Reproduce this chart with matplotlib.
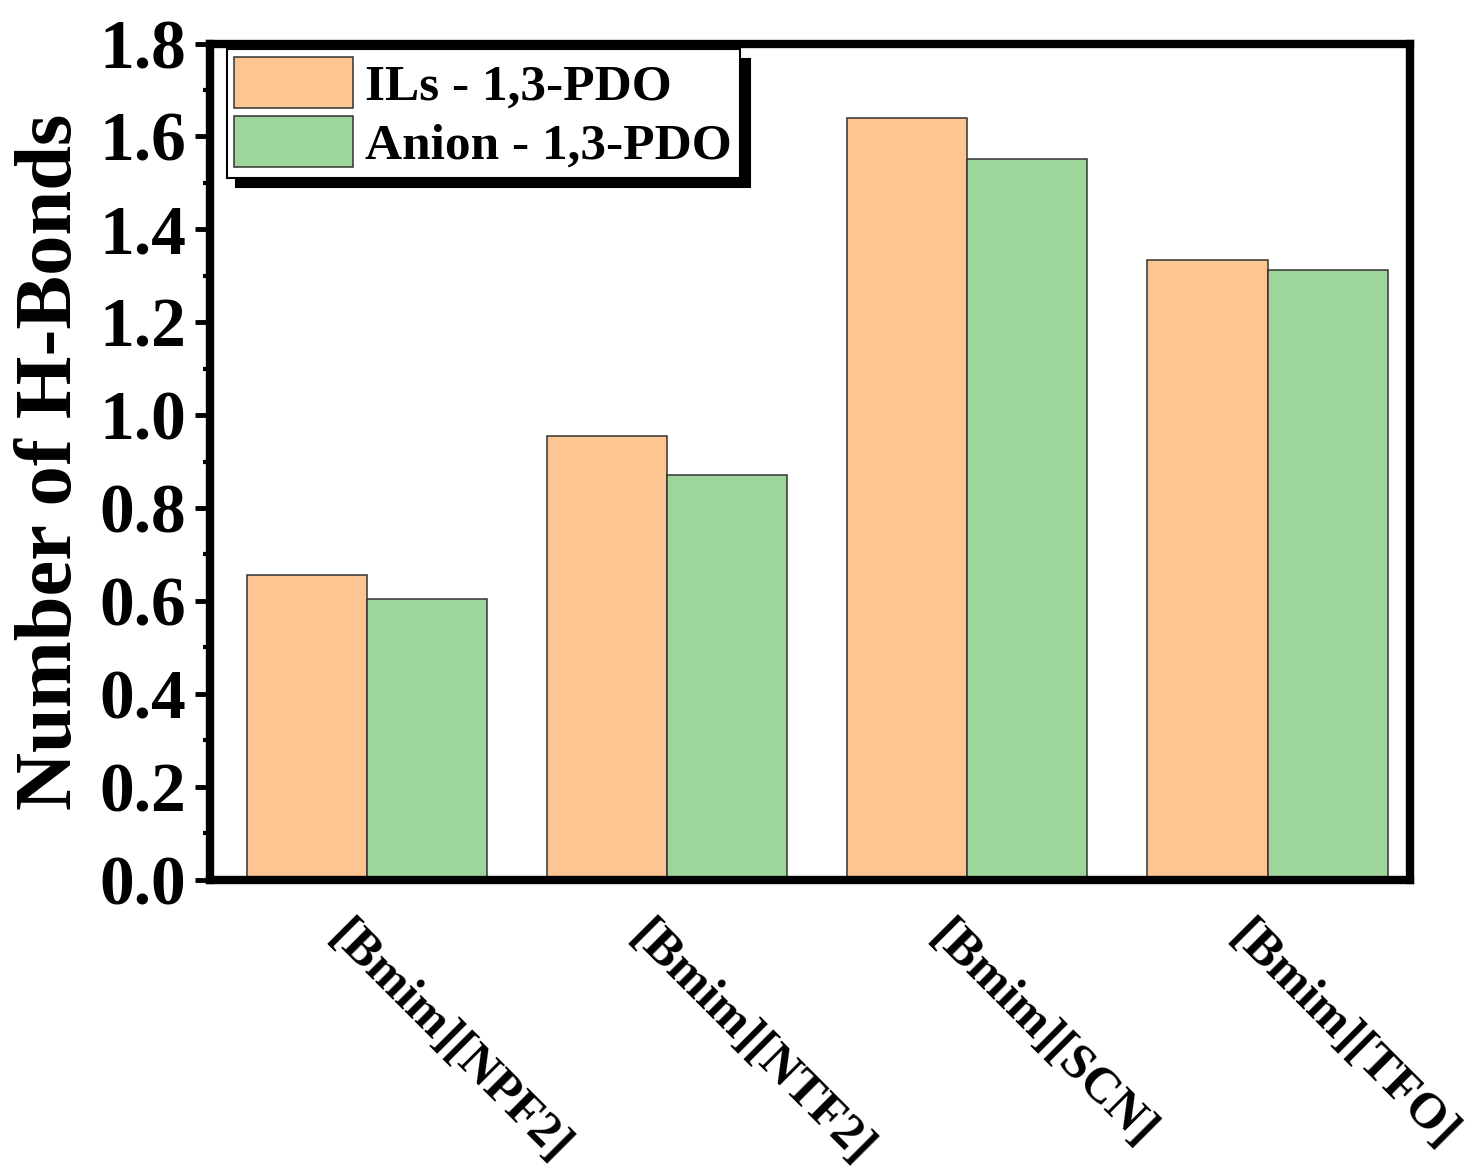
import numpy as np
import matplotlib.pyplot as plt
import matplotlib.transforms as mtransforms
from matplotlib.ticker import MultipleLocator

plt.rcParams['font.family'] = ['Liberation Serif', 'DejaVu Serif']
plt.rcParams['font.weight'] = 'bold'

categories = ['[Bmim][NPF2]', '[Bmim][NTF2]', '[Bmim][SCN]', '[Bmim][TFO]']
ils_pdo = [0.655, 0.955, 1.64, 1.335]
anion_pdo = [0.605, 0.872, 1.552, 1.312]
series_names = ['ILs - 1,3-PDO', 'Anion - 1,3-PDO']

c_orange = '#FDC591'
c_green = '#9ED59B'

fig = plt.figure(figsize=(14.68, 11.76), dpi=100)
ax = fig.add_axes([0.143, 0.252, 0.8175, 0.711])

x = np.arange(len(categories))
w = 0.4
ax.bar(x - w/2, ils_pdo, w, color=c_orange, edgecolor='#333333', linewidth=1.1, label=series_names[0])
ax.bar(x + w/2, anion_pdo, w, color=c_green, edgecolor='#333333', linewidth=1.1, label=series_names[1])

ax.set_xlim(-0.525, 3.475)
ax.set_ylim(0, 1.8)
ax.yaxis.set_major_locator(MultipleLocator(0.2))
ax.yaxis.set_minor_locator(MultipleLocator(0.1))
ax.set_yticklabels([f'{v:.1f}' for v in ax.get_yticks()])

ax.set_xticks(x)
ax.set_xticklabels(categories, rotation=-45, ha='left', va='top',
                   rotation_mode='anchor', fontsize=36, fontweight='bold')
ax.tick_params(axis='x', length=0, pad=24)
# nudge the rotated labels a bit to the left
shift = mtransforms.ScaledTranslation(-0.15, 0, fig.dpi_scale_trans)
for lbl in ax.get_xticklabels():
    lbl.set_transform(lbl.get_transform() + shift)

ax.tick_params(axis='y', which='major', direction='out', length=11, width=3.5,
               labelsize=50, pad=6)
ax.tick_params(axis='y', which='minor', direction='out', length=5, width=3)

for s in ax.spines.values():
    s.set_linewidth(6)

ax.set_ylabel('Number of H-Bonds', fontsize=58, fontweight='bold')
ax.yaxis.set_label_coords(-0.102, 0.5)

leg = ax.legend(loc='upper left', bbox_to_anchor=(0.014, 0.993), borderaxespad=0,
                fontsize=37, frameon=True, fancybox=False, edgecolor='black',
                handlelength=2.3, handleheight=1.15, handletextpad=0.25,
                labelspacing=0.1, borderpad=0.15,
                shadow={'ox': 7, 'oy': -7, 'color': 'black', 'alpha': 1})
leg.get_frame().set_linewidth(1.5)
for t in leg.get_texts():
    t.set_fontweight('bold')

fig.savefig('out.png', dpi=100)
